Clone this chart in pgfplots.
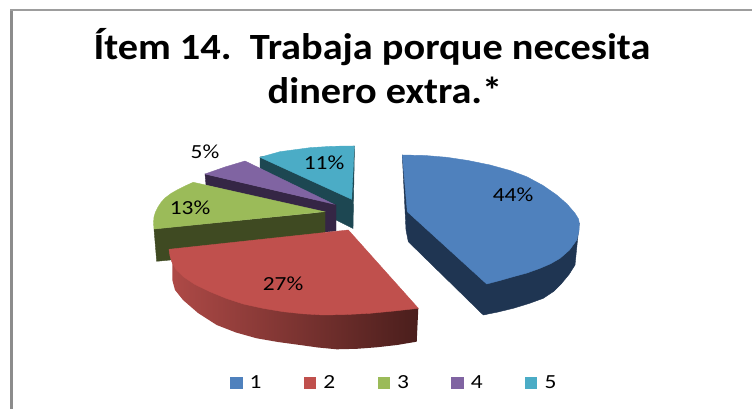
\documentclass[border=0pt]{standalone}
\usepackage{fontspec}
\setmainfont{Carlito}
\usepackage{pgfplots}
\pgfplotsset{compat=1.18}
\definecolor{b1}{HTML}{4F81BD}
\definecolor{b2}{HTML}{1F3552}
\definecolor{r1}{HTML}{C0504D}
\definecolor{rs1}{HTML}{AF4A47}
\definecolor{rs2}{HTML}{4A1E1C}
\definecolor{g1}{HTML}{9BBB59}
\definecolor{g2}{HTML}{3F4A22}
\definecolor{p1}{HTML}{8064A2}
\definecolor{p2}{HTML}{352645}
\definecolor{t1}{HTML}{4BACC6}
\definecolor{t2}{HTML}{1D4752}
\definecolor{frame}{HTML}{8C8C8C}
\newcommand{\wide}[2][1.17]{\scalebox{#1}[1]{#2}}
\begin{document}
\begin{tikzpicture}
\begin{axis}[
 scale only axis,width=752pt,height=409pt,
 xmin=0,xmax=752,ymin=0,ymax=409,y dir=reverse,
 hide axis,
 legend style={at={(axis cs:393.5,382.5)},anchor=center,draw=none,fill=none,
  legend columns=5,font=\fontsize{20}{20}\selectfont,
  /tikz/every odd column/.append style={column sep=6pt},
  /tikz/every even column/.append style={column sep=0pt}},
 legend cell align=left]
% legend follows series order, slices are drawn back to front below
\addlegendimage{only marks,mark=square*,mark size=5.6pt,color=b1}
\addlegendentry{\makebox[52.5pt][l]{\wide{1}}}
\addlegendimage{only marks,mark=square*,mark size=5.6pt,color=r1}
\addlegendentry{\makebox[52.5pt][l]{\wide{2}}}
\addlegendimage{only marks,mark=square*,mark size=5.6pt,color=g1}
\addlegendentry{\makebox[52.5pt][l]{\wide{3}}}
\addlegendimage{only marks,mark=square*,mark size=5.6pt,color=p1}
\addlegendentry{\makebox[52.5pt][l]{\wide{4}}}
\addlegendimage{only marks,mark=square*,mark size=5.6pt,color=t1}
\addlegendentry{\makebox[10pt][l]{\wide{5}}}

% page background and frame
\addplot[forget plot,draw=none,fill=white] coordinates {(0,0) (752,0) (752,409) (0,409)} -- cycle;
\addplot[forget plot,frame,line width=3pt] coordinates {(11.5,409) (11.5,10)};
\addplot[forget plot,frame!85!white,line width=2pt] coordinates {(10,10) (752,10)};

% 5: teal
\addplot[forget plot,draw=t2,fill=t2] coordinates {(260,157) (260,168) (335,211) (336,220) (353,228.5) (354.5,146)} -- cycle;
\addplot[forget plot,draw=t1,fill=t1] coordinates {(260,157.3) (280,151.7) (310,147.7) (332,146.3) (354.3,146) (351.7,199.3)} -- cycle;
% 4: purple
\addplot[forget plot,draw=p2,fill=p2] coordinates {(205,174) (206,185) (325,214) (325,232) (336,231) (336,205) (333.3,204)} -- cycle;
\addplot[forget plot,draw=p1,fill=p1] coordinates {(205,174) (225,167) (245,161) (333.3,204)} -- cycle;
% 3: green
\addplot[forget plot,draw=g2,fill=g2] coordinates {(154,229) (156.7,261.3) (325,245) (325,212)} -- cycle;
\addplot[forget plot,draw=g1,fill=g1] coordinates {(154,229) (153.5,223) (154,217) (155.5,212) (158,207) (161,202.5) (165,198) (171,193.5) (178,189.5) (185,186) (193.3,182.3) (324.3,211.7)} -- cycle;
% 2: red
\addplot[forget plot,draw=none,left color=rs1,right color=rs2] coordinates {(169,249.3) (172.3,261.7) (172.3,280) (175,290) (183,300) (198,313) (216.7,325) (236,332.5) (256.7,338.3) (278,342) (300,345) (318,347.5) (336.7,349.3) (357,348.8) (376.7,347.3) (397,345) (416.7,341.7) (418.3,308.3)} -- cycle;
\addplot[forget plot,draw=r1,fill=r1] coordinates {(348.3,230) (169,249.3) (170,256) (171.7,261.7) (176,269.5) (183.3,276.7) (195,284.5) (210,291.7) (226,298.3) (243.3,304) (263,308.3) (283.3,311.7) (303,313.8) (323.3,315) (347,314.5) (370,313.3) (394,311) (418.3,308.3)} -- cycle;
% 1: blue
\addplot[forget plot,draw=b2,fill=b2] coordinates {(402.3,155) (406,230) (408.3,241.7) (483.3,315) (498,312) (513.3,308.3) (529,303.5) (543.3,298.3) (553.5,291.5) (561.7,283.3) (569,274.5) (575,265) (577,245) (579.3,223.3)} -- cycle;
\addplot[forget plot,draw=b1,fill=b1] coordinates {(402.3,155) (425,155.5) (446.7,157.3) (468,160.5) (490,165) (510,170.5) (526.7,176.7) (543,185.5) (556.7,195) (567,204) (575,213.3) (578.5,219) (579.3,223.3) (579,231) (576.7,240) (569.5,250) (560,258.3) (550.5,263.8) (540,268.3) (527,273) (513.3,276.7) (500,280.5) (486.7,284) (407.3,211.7)} -- cycle;

\node[font=\fontsize{20}{20}\selectfont] at (axis cs:513,195) {\wide{44\%}};
\node[font=\fontsize{20}{20}\selectfont] at (axis cs:283,284) {\wide{27\%}};
\node[font=\fontsize{20}{20}\selectfont] at (axis cs:190,208) {\wide{13\%}};
\node[font=\fontsize{20}{20}\selectfont] at (axis cs:205,152) {\wide{5\%}};
\node[font=\fontsize{20}{20}\selectfont] at (axis cs:324,163) {\wide{11\%}};
\node[font=\bfseries\fontsize{37}{37}\selectfont] at (axis cs:372,47) {\wide[1.09]{Ítem 14.\ \ Trabaja porque necesita}};
\node[font=\bfseries\fontsize{37}{37}\selectfont] at (axis cs:385,90) {\wide[1.09]{dinero extra.*}};
\end{axis}
\end{tikzpicture}
\end{document}
